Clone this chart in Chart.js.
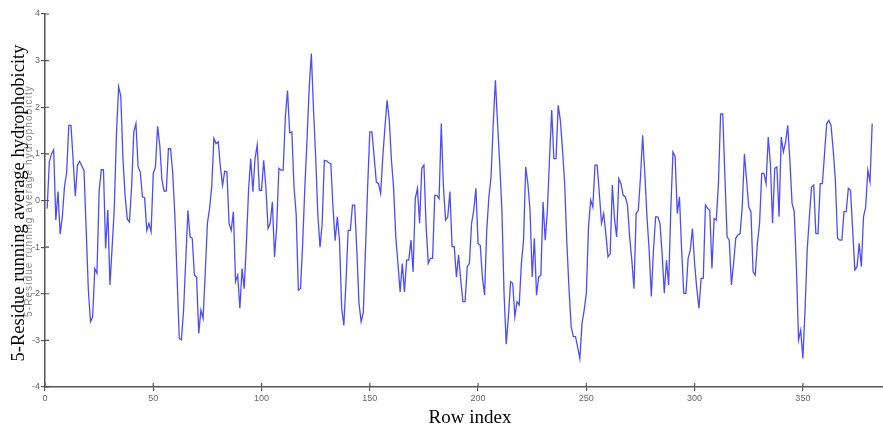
<!DOCTYPE html>
<html><head><meta charset="utf-8">
<script src="https://cdn.jsdelivr.net/npm/chart.js@4.4.0/dist/chart.umd.min.js"></script>
<style>
html,body{margin:0;padding:0;background:#fff;}
#wrap{position:relative;width:883px;height:428px;}
.rot{position:absolute;text-align:center;transform:rotate(-90deg);white-space:nowrap;}
#yTitle{left:-162.5px;top:192px;width:360px;height:22px;line-height:22px;font-family:'Liberation Serif','Times New Roman',serif;font-size:18.5px;color:#000;}
#ySub{left:-111.5px;top:195px;width:280px;height:12px;line-height:12px;font-family:'Liberation Sans',Arial,sans-serif;font-size:10px;letter-spacing:1.1px;color:#8a8a8a;}
#xTitle{position:absolute;left:370px;top:406px;width:200px;height:22px;line-height:22px;text-align:center;font-family:'Liberation Serif','Times New Roman',serif;font-size:19px;color:#000;}
</style></head><body>
<div id="wrap"><canvas id="c" width="883" height="428"></canvas><div id="ySub" class="rot"></div><div id="yTitle" class="rot"></div><div id="xTitle"></div></div>
<script>
// 5-residue running average hydrophobicity, rows 1..382
const hydrophobicity = [
-0.17, 0.83, 1.0, 1.09, -0.42, 0.19, -0.72, -0.35, 0.3, 0.6,
1.61, 1.61, 0.86, 0.09, 0.76, 0.84, 0.74, 0.65, -0.6, -1.9,
-2.6, -2.5, -1.46, -1.56, 0.2, 0.66, 0.66, -1.03, -0.2, -1.81,
-1.0, -0.17, 1.43, 2.44, 2.24, 0.9, 0.1, -0.4, -0.46, 0.3,
1.47, 1.65, 0.72, 0.61, 0.08, 0.06, -0.64, -0.49, -0.67, 0.58,
0.72, 1.59, 1.19, 0.44, 0.2, 0.2, 1.11, 1.11, 0.58, -0.35,
-1.64, -2.96, -2.99, -2.35, -1.28, -0.21, -0.78, -0.81, -1.6, -1.64,
-2.85, -2.35, -2.53, -1.56, -0.49, -0.17, 0.3, 1.33, 1.22, 1.26,
0.72, 0.33, 0.63, 0.61, -0.49, -0.64, -0.24, -1.74, -1.6, -2.31,
-1.46, -1.89, -0.92, 0.22, 0.9, 0.19, 0.9, 1.19, 0.22, 0.22,
0.86, 0.29, -0.6, -0.49, -0.03, -1.21, -0.56, 0.69, 0.65, 0.65,
1.79, 2.36, 1.45, 1.47, 0.29, -0.3, -1.92, -1.89, -0.92, 0.29,
1.3, 2.4, 3.15, 1.95, 0.94, -0.3, -1.0, -0.5, 0.86, 0.85,
0.81, 0.79, -0.14, -0.86, -0.35, -0.85, -2.3, -2.68, -1.75, -0.64,
-0.64, -0.1, -0.1, -1.06, -2.2, -2.6, -2.4, -1.06, 0.29, 1.47,
1.47, 0.94, 0.4, 0.36, 0.15, 0.94, 1.58, 2.15, 1.72, 0.86,
0.26, -0.78, -1.35, -1.96, -1.35, -1.96, -1.28, -1.28, -0.85, -1.53,
0.04, 0.26, -0.49, 0.69, 0.76, -0.56, -1.35, -1.24, -1.24, 0.11,
0.11, 0.04, 1.65, 0.29, -0.42, -0.35, 0.19, -0.99, -0.99, -1.64,
-1.17, -1.71, -2.17, -2.17, -1.42, -1.35, -0.49, -0.21, 0.26, -0.92,
-0.96, -1.64, -2.03, -0.64, 0.08, 0.51, 1.65, 2.58, 1.65, 0.79,
-0.21, -2.0, -3.08, -2.49, -1.74, -1.78, -2.49, -2.17, -2.24, -1.35,
-0.85, 0.72, 0.36, -0.21, -1.64, -0.81, -2.03, -1.64, -1.6, -0.03,
-0.85, -0.21, 0.9, 1.94, 0.9, 0.9, 2.04, 1.72, 1.08, 0.36,
-0.92, -1.9, -2.71, -2.92, -2.92, -3.15, -3.39, -2.64, -2.35, -1.99,
-0.56, 0.01, -0.14, 0.76, 0.76, 0.15, -0.49, -0.28, -0.71, -1.21,
-1.14, 0.33, -0.39, -0.78, 0.47, 0.36, 0.11, 0.08, -0.1, -0.78,
-1.28, -1.89, -0.28, -0.21, 0.5, 1.4, 0.58, -0.35, -1.06, -2.06,
-1.06, -0.35, -0.35, -0.49, -1.14, -1.99, -1.28, -1.81, -0.21, 1.04,
0.94, -0.28, 0.08, -1.06, -1.99, -1.99, -1.24, -1.06, -0.6, -1.35,
-1.89, -2.31, -1.67, -1.67, -0.1, -0.17, -0.21, -1.46, -0.39, -0.42,
0.36, 1.86, 1.86, 0.5, -0.78, -0.85, -1.81, -1.35, -0.81, -0.74,
-0.71, -0.14, 1.0, 0.44, -0.14, -0.24, -1.53, -1.6, -0.92, -0.49,
0.58, 0.58, 0.36, 1.36, 0.79, -0.49, 0.69, 0.72, -0.35, 1.36,
1.04, 1.25, 1.61, 0.86, -0.06, -0.24, -1.42, -2.99, -2.78, -3.39,
-2.35, -1.06, -0.35, 0.29, 0.33, -0.71, -0.71, 0.36, 0.36, 1.0,
1.65, 1.72, 1.61, 1.08, 0.44, -0.81, -0.85, -0.85, -0.24, -0.24,
0.26, 0.22, -0.64, -1.49, -1.42, -0.92, -1.42, -0.35, -0.14, 0.65,
0.4, 1.65
];
const rowIndex = hydrophobicity.map((_, k) => k + 1);
const xTickValues = [0, 50, 100, 150, 200, 250, 300, 350];
const yTickValues = [-4, -3, -2, -1, 0, 1, 2, 3, 4];
const xTitle = 'Row index';
const yTitle = '5-Residue running average hydrophobicity';

document.getElementById('yTitle').textContent = yTitle;
document.getElementById('ySub').textContent = yTitle;
document.getElementById('xTitle').textContent = xTitle;

const tickFont = {family: "'Liberation Sans Narrow','Liberation Sans',Arial,sans-serif", size: 9};
const axisColor = '#555';

const innerTicks = {
  id: 'innerTicks',
  afterDraw(chart) {
    const {ctx, chartArea: a, scales: {x, y}} = chart;
    ctx.save();
    ctx.strokeStyle = axisColor;
    ctx.lineWidth = 1.2;
    ctx.beginPath();
    xTickValues.forEach(v => { const px = x.getPixelForValue(v); ctx.moveTo(px, a.bottom); ctx.lineTo(px, a.bottom - 4); });
    yTickValues.forEach(v => { const py = y.getPixelForValue(v); ctx.moveTo(a.left, py); ctx.lineTo(a.left + 4, py); });
    ctx.stroke();
    ctx.restore();
  }
};

new Chart(document.getElementById('c'), {
  type: 'line',
  data: {
    datasets: [{
      data: rowIndex.map((r, k) => ({x: r, y: hydrophobicity[k]})),
      borderColor: '#4c4cff',
      borderWidth: 1.3,
      pointRadius: 0,
      tension: 0,
      fill: false
    }]
  },
  options: {
    responsive: false,
    animation: false,
    devicePixelRatio: 1,
    layout: {padding: {top: 14, right: 0, bottom: 0, left: 0}},
    plugins: {legend: {display: false}, tooltip: {enabled: false}},
    scales: {
      x: {
        type: 'linear', min: 0, max: 387,
        afterFit: s => { s.height = 41; },
        afterBuildTicks: s => { s.ticks = xTickValues.map(v => ({value: v})); },
        border: {display: true, color: axisColor, width: 1.5},
        grid: {display: true, drawOnChartArea: false, drawTicks: true, tickLength: 4, color: axisColor, lineWidth: 1.2},
        ticks: {font: tickFont, color: '#666', padding: 2, maxRotation: 0, autoSkip: false}
      },
      y: {
        type: 'linear', min: -4, max: 4,
        afterFit: s => { s.width = 45; },
        afterBuildTicks: s => { s.ticks = yTickValues.map(v => ({value: v})); },
        border: {display: true, color: axisColor, width: 1.5},
        grid: {display: true, drawOnChartArea: false, drawTicks: true, tickLength: 4, color: axisColor, lineWidth: 1.2},
        ticks: {font: tickFont, color: '#666', padding: 1}
      }
    }
  },
  plugins: [innerTicks]
});
</script>
</body></html>
